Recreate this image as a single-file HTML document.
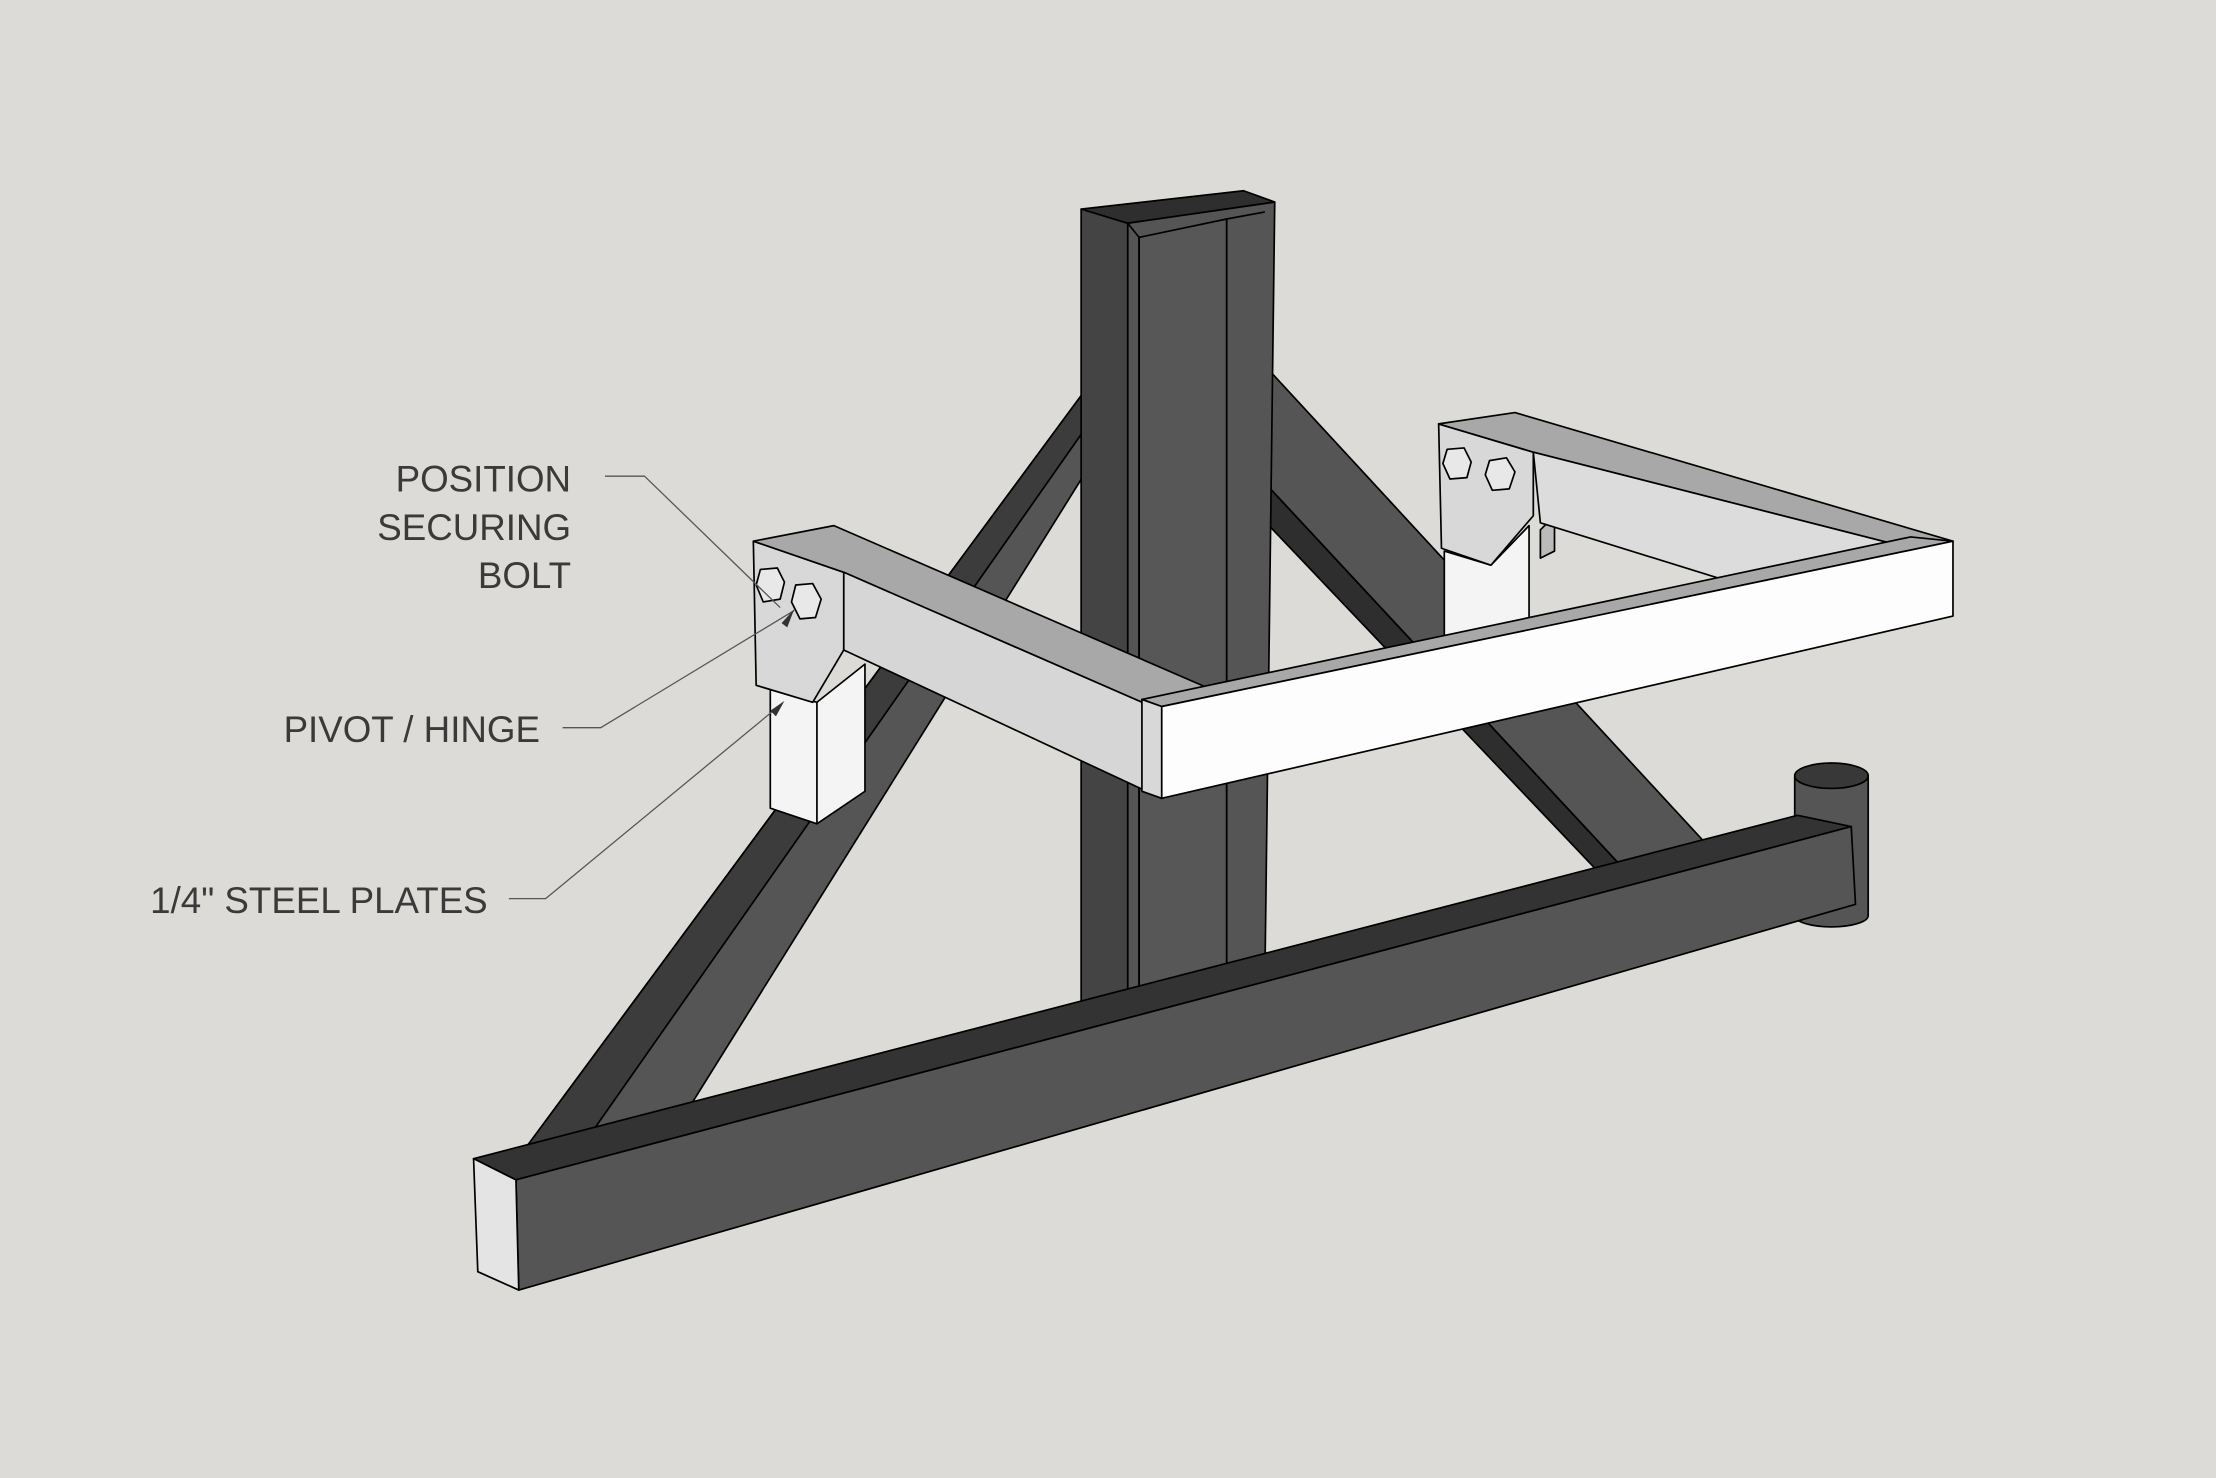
<!DOCTYPE html>
<html><head><meta charset="utf-8"><style>
html,body{margin:0;padding:0;background:#dcdbd7;}
svg{display:block}
text{font-family:"Liberation Sans",sans-serif;font-size:26px;fill:#3a3a3a;}
</style></head><body>
<svg width="2216" height="1478" viewBox="0 0 1568 1046" xmlns="http://www.w3.org/2000/svg" stroke="#000" stroke-width="1.2" stroke-linejoin="round">
<rect x="0" y="0" width="1568" height="1046" fill="#dcdbd7" stroke="none"/>
<!-- right brace -->
<polygon points="898,262 1208,598 1150,616 898,345" fill="#555"/>
<polygon points="898,345 1150,616 1130,616 898,372" fill="#2e2e2e"/>
<!-- left brace -->
<polygon points="765,280 797,288 470,812 395,830 370,815" fill="#555"/>
<polygon points="765,280 780,286 400,828 370,815" fill="#3c3c3c"/>
<!-- post -->
<polygon points="765,148 880,135 902,143 798,158" fill="#2e2e2e"/>
<polygon points="765,148 798,158 798,720 765,708" fill="#444"/>
<polygon points="798,158 902,143 895,695 798,720" fill="#555"/>
<polygon points="806,168 868,155 868,685 806,700" fill="#575757"/>
<line x1="868" y1="155" x2="868" y2="685"/>
<line x1="806" y1="168" x2="806" y2="700"/>
<line x1="798" y1="158" x2="806" y2="168"/>
<line x1="868" y1="155" x2="895" y2="150"/>
<polygon points="806,700 868,685 895,695 798,720" fill="#3a3a3a"/>
<!-- hinge cylinder (behind beam end) -->
<path d="M1270,549 L1270,648 A26,8 0 0 0 1322,648 L1322,549 Z" fill="#555"/>
<ellipse cx="1296" cy="549" rx="26" ry="9" fill="#383838"/>
<!-- base beam -->
<polygon points="335,820 1272,577 1310,585 365,835" fill="#333"/>
<polygon points="365,835 1310,585 1313,640 367,913" fill="#555"/>
<polygon points="335,820 365,835 367,913 338,900" fill="#e4e4e4"/>
<!-- right plate & leg -->
<polygon points="1022,390 1055,400 1082,372 1082,470 1050,468 1022,450" fill="#f4f4f4"/>
<polygon points="1018,300 1085,320 1085,365 1055,400 1020,388" fill="#d8d8d8"/>
<polygon points="1090,375 1100,365 1100,390 1090,395" fill="#bbb"/>
<!-- right arm -->
<polygon points="1018,300 1072,292 1382,383 1352,388 1085,320" fill="#a8a8a8"/>
<polygon points="1085,320 1352,388 1235,415 1090,370" fill="#dcdcdc"/>
<!-- left leg & plate -->
<polygon points="545,488 578,497 612,470 612,560 578,583 545,572" fill="#f4f4f4"/>
<line x1="578" y1="497" x2="578" y2="583"/>
<polygon points="533,383 597,405 597,460 575,497 535,485" fill="#d8d8d8"/>
<!-- left arm -->
<polygon points="533,383 590,372 855,487 808,497 597,405" fill="#a8a8a8"/>
<polygon points="597,405 808,497 822,565 597,460" fill="#d6d6d6"/>
<!-- front tube -->
<polygon points="808,495 1352,380 1382,383 822,500" fill="#a8a8a8"/>
<polygon points="822,500 1382,383 1382,436 822,565" fill="#fdfdfd"/>
<polygon points="808,495 822,500 822,565 808,560" fill="#d8d8d8"/>
<!-- bolts -->
<g fill="#e8e8e8">
<polygon points="538,403 550,402 555,412 552,424 540,426 535,414"/>
<polygon points="563,414 575,413 581,424 577,437 566,438 560,426"/>
<polygon points="1024,318 1036,317 1041,327 1038,338 1026,339 1021,328"/>
<polygon points="1054,326 1066,324 1072,334 1068,346 1056,347 1051,336"/>
</g>
<!-- leaders -->
<g stroke="#555" stroke-width="0.9" fill="none">
<polyline points="428,337 456,337 552,430"/>
<polyline points="398,515 425,515 562,432"/>
<polyline points="360,636 386,636 552,499"/>
</g>
<g fill="#333" stroke="none">
<polygon points="562,431 553,441 557,444"/>
<polygon points="555,496 545,503 549,507"/>
</g>
<g stroke="none">
<text x="404" y="348" text-anchor="end">POSITION</text>
<text x="404" y="382" text-anchor="end">SECURING</text>
<text x="404" y="416" text-anchor="end">BOLT</text>
<text x="382" y="525" text-anchor="end">PIVOT / HINGE</text>
<text x="345" y="646" text-anchor="end">1/4" STEEL PLATES</text>
</g>
</svg>
</body></html>
